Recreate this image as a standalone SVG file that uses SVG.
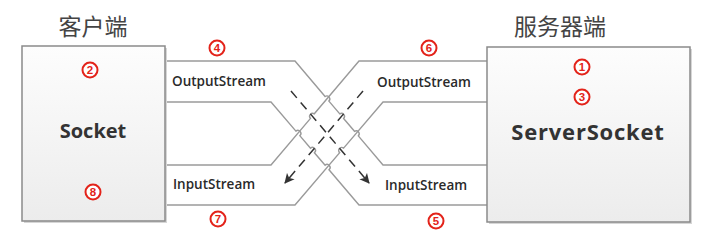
<svg xmlns="http://www.w3.org/2000/svg" width="705" height="244" viewBox="0 0 705 244">
  <defs>
    <linearGradient id="boxFill" x1="0" y1="0" x2="0" y2="1">
      <stop offset="0" stop-color="#fdfdfd"/>
      <stop offset="1" stop-color="#ececec"/>
    </linearGradient>
    <marker id="arrowHead" viewBox="0 0 10 10" refX="9" refY="5" markerWidth="10" markerHeight="10" markerUnits="userSpaceOnUse" orient="auto">
      <path d="M0,0 L10,5 L0,10 L2.5,5 Z" fill="#333"/>
    </marker>
    <style>
      .box { fill: url(#boxFill); stroke: #8a8a8a; stroke-width: 1.5; }
      .shadow { fill: #d6d6d6; }
      .pipe { fill: none; stroke: #9a9a9a; stroke-width: 1.4; }
      .flow { fill: none; stroke: #333; stroke-width: 1.5; stroke-dasharray: 9 6; }
      .title { font-family: "Noto Sans CJK SC", "Noto Sans", sans-serif; font-size: 23px; fill: #444; text-anchor: middle; }
      .name { font-family: "Open Sans", "Liberation Sans", sans-serif; font-weight: 700; fill: #333; text-anchor: middle; }
      .stream { font-family: "Open Sans", "Liberation Sans", sans-serif; font-size: 13.5px; font-weight: 600; fill: #2a2a2a; }
      .step circle { fill: #fff; stroke: #e3231a; stroke-width: 2; }
      .step text { font-family: "Liberation Sans", "DejaVu Sans", sans-serif; font-size: 11.5px; font-weight: 700; fill: #e3231a; text-anchor: middle; }
    </style>
  </defs>

  <rect width="705" height="244" fill="#fff"/>

  <!-- stream pipes crossing between the two ends -->
  <g id="connectors">
    <!-- client OutputStream -> server InputStream -->
    <path class="pipe" d="M165,61 H295 L325.1,96.5 A3,3 0 0 1 328.9,101.1 L339.8,113.9 A3,3 0 0 1 343.6,118.5 L354.5,131.3 A3,3 0 0 1 358.3,135.9 L383,165 H487"/>
    <path class="pipe" d="M165,102 H271 L295.9,131.1 A3,3 0 0 1 299.8,135.7 L310.5,148.2 A3,3 0 0 1 314.4,152.8 L325.1,165.2 A3,3 0 0 1 329,169.8 L359,205 H487"/>
    <!-- server OutputStream -> client InputStream -->
    <path class="pipe" d="M165,165 H271 L310.5,118.4 A3,3 0 0 1 314.3,113.8 L359,61 H487"/>
    <path class="pipe" d="M165,205 H295 L339.7,152.7 A3,3 0 0 1 343.6,148.1 L383,102 H487"/>
    <!-- data flow -->
    <path class="flow" d="M291,91 L369,183" marker-end="url(#arrowHead)"/>
    <path class="flow" d="M363,91 L285,183" marker-end="url(#arrowHead)"/>

    <text class="stream" x="172" y="86">OutputStream</text>
    <text class="stream" x="173" y="189">InputStream</text>
    <text class="stream" x="377" y="87">OutputStream</text>
    <text class="stream" x="385" y="190">InputStream</text>
  </g>

  <!-- client side -->
  <g id="client">
    <text class="title" x="93" y="35">客户端</text>
    <rect class="shadow" x="24" y="48" width="143" height="175"/>
    <rect class="box" x="22" y="46" width="143" height="175"/>
    <text class="name" x="93" y="138" font-size="20">Socket</text>
  </g>

  <!-- server side -->
  <g id="server">
    <text class="title" x="560" y="35">服务器端</text>
    <rect class="shadow" x="489" y="49" width="203" height="175"/>
    <rect class="box" x="487" y="47" width="203" height="175"/>
    <text class="name" x="588" y="140" font-size="22" letter-spacing="0.8">ServerSocket</text>
  </g>

  <!-- numbered steps -->
  <g id="steps">
    <g class="step"><circle cx="582" cy="67" r="7.5"/><text x="582" y="71.2">1</text></g>
    <g class="step"><circle cx="90" cy="70" r="7.5"/><text x="90" y="74.2">2</text></g>
    <g class="step"><circle cx="582" cy="97" r="7.5"/><text x="582" y="101.2">3</text></g>
    <g class="step"><circle cx="217" cy="48" r="7.5"/><text x="217" y="52.2">4</text></g>
    <g class="step"><circle cx="436" cy="221" r="7.5"/><text x="436" y="225.2">5</text></g>
    <g class="step"><circle cx="429" cy="48" r="7.5"/><text x="429" y="52.2">6</text></g>
    <g class="step"><circle cx="218" cy="219" r="7.5"/><text x="218" y="223.2">7</text></g>
    <g class="step"><circle cx="93" cy="192" r="7.5"/><text x="93" y="196.2">8</text></g>
  </g>
</svg>
